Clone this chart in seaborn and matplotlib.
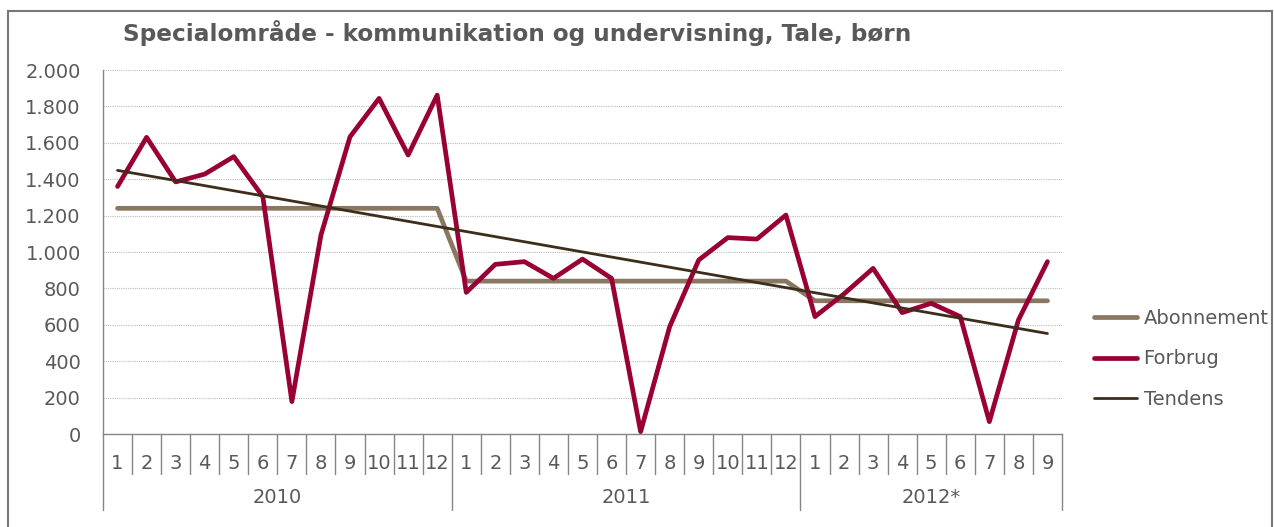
import numpy as np
import pandas as pd
import seaborn as sns
from matplotlib import pyplot as plt
from matplotlib.patches import Rectangle

# data
years = ['2010', '2011', '2012*']
months_per_year = [12, 12, 9]
abonnement_level = [1240, 840, 732]
forbrug = [1360, 1630, 1385, 1428, 1524, 1304, 178, 1093, 1633, 1844, 1533, 1862,
           778, 932, 947, 855, 961, 855, 13, 590, 956, 1079, 1071, 1203,
           645, 770, 910, 667, 718, 645, 68, 626, 947]
month_labels = [str(m) for n in months_per_year for m in range(1, n + 1)]
title = 'Specialområde - kommunikation og undervisning, Tale, børn'

df = pd.DataFrame({
    'pos': range(len(forbrug)),
    'Forbrug': forbrug,
    'Abonnement': np.repeat(abonnement_level, months_per_year),
})

GRAY = '#868686'
TXT = '#595959'

sns.set_style('white')
plt.rcParams['font.family'] = ['DejaVu Sans']

W, H = 1274, 527
fig = plt.figure(figsize=(W / 100, H / 100), dpi=100)
ax = fig.add_axes([103 / W, 1 - 434 / H, (1062 - 103) / W, (434 - 70) / H])

sns.lineplot(data=df, x='pos', y='Abonnement', color='#8A7762', lw=3.4, ax=ax, label='Abonnement')
sns.lineplot(data=df, x='pos', y='Forbrug', color='#990033', lw=3.4, ax=ax, label='Forbrug')
# Tendens = linear trend of Forbrug
sns.regplot(data=df, x='pos', y='Forbrug', scatter=False, ci=None, truncate=True, ax=ax,
            color='#3D2E1C', line_kws={'lw': 2}, label='Tendens')

ax.set_xlim(-0.5, len(forbrug) - 0.5)
ax.set_ylim(0, 2000)
ax.set_yticks(range(0, 2001, 200))
ax.set_yticklabels([f'{v:,}'.replace(',', '.') for v in range(0, 2001, 200)])
ax.set_xticks([])
ax.set_xlabel('')
ax.set_ylabel('')
ax.yaxis.grid(True, linestyle=(0, (1, 1)), color='#bdbdbd', lw=0.8)
ax.set_axisbelow(True)
ax.tick_params(axis='y', direction='out', length=7, width=1, color=GRAY,
               labelcolor=TXT, labelsize=14, pad=9)
for s in ['top', 'right']:
    ax.spines[s].set_visible(False)
for s in ['left', 'bottom']:
    ax.spines[s].set_color(GRAY)
    ax.spines[s].set_linewidth(1)

# two level category axis
trans = ax.get_xaxis_transform()
for i, lab in enumerate(month_labels):
    ax.annotate(lab, (i, 0), xycoords=trans, xytext=(0, -21), textcoords='offset points',
                ha='center', va='center', fontsize=14, color=TXT)
bounds = np.cumsum([0] + months_per_year)
for b in range(len(forbrug) + 1):
    depth = 76 if b in bounds else 40
    ax.plot([b - 0.5, b - 0.5], [0, -depth / 364], transform=trans, color=GRAY, lw=1, clip_on=False)
for k, yr in enumerate(years):
    mid = (bounds[k] + bounds[k + 1] - 1) / 2
    ax.annotate(yr, (mid, 0), xycoords=trans, xytext=(0, -46), textcoords='offset points',
                ha='center', va='center', fontsize=14, color=TXT)

ax.legend(loc='upper left', bbox_to_anchor=(1094 / W, 1 - 309 / H), bbox_transform=fig.transFigure,
          frameon=False, fontsize=14, labelcolor=TXT, handlelength=2.2, handletextpad=0.35,
          labelspacing=1.1, borderpad=0, borderaxespad=0)

fig.text(123 / W, 1 - 33 / H, title, fontsize=16.7, fontweight='bold', color=TXT, ha='left', va='center')
fig.add_artist(Rectangle((8 / W, -0.1), (1272 - 8) / W, 1.1 - 11 / H, transform=fig.transFigure,
                         fill=False, edgecolor='#777777', lw=1.5))

fig.savefig('out.png', dpi=100)
